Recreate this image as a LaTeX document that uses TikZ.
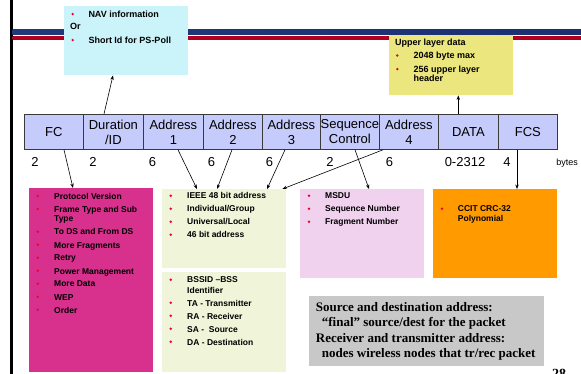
\documentclass[tikz,border=0pt]{standalone}
\usepackage{fontspec}
\setmainfont{Liberation Sans}
\newfontfamily\serifb{Liberation Serif}
\usetikzlibrary{arrows.meta,calc}
\definecolor{cellc}{HTML}{C5CBFA}
\definecolor{cellb}{HTML}{3A3A3A}
\definecolor{navc}{HTML}{CBF3FA}
\definecolor{upc}{HTML}{EBE67D}
\definecolor{magc}{HTML}{D8308D}
\definecolor{adrc}{HTML}{F0F4D8}
\definecolor{pinkc}{HTML}{F0D2EE}
\definecolor{orc}{HTML}{FF9A00}
\definecolor{grayc}{HTML}{C8C8C8}
\definecolor{bulc}{HTML}{F00030}
\definecolor{navyL}{HTML}{1F3A7A}
\definecolor{blueM}{HTML}{3366FF}
\definecolor{navyR}{HTML}{1C3070}
\definecolor{redD}{HTML}{B0001E}
\definecolor{redM}{HTML}{FF0033}
\newcommand\bitem[6][lst]{%
  \fill[bulc] (#3,#5-3.2) circle (1.35pt);
  \node[#1] (#2) at (#4,#5) {#6};}
\begin{document}
\begin{tikzpicture}[x=1pt,y=-1pt,
  cell/.style={draw=cellb, line width=0.8pt, fill=cellc, minimum height=35pt,
    inner sep=0pt, anchor=north west, align=center,
    font=\fontsize{13}{15}\selectfont},
  num/.style={anchor=base, inner sep=0pt, font=\fontsize{13}{15}\selectfont},
  box/.style={anchor=north west, inner sep=0pt, draw=none},
  lst/.style={anchor=base west, inner sep=0pt, font=\fontsize{8.5}{10}\selectfont\bfseries},
  big/.style={anchor=base west, inner sep=0pt, font=\fontsize{9}{11}\selectfont\bfseries},
  note/.style={anchor=base west, inner sep=0pt, font=\serifb\fontsize{13}{15}\selectfont\bfseries},
  arr/.style={-{Stealth[length=4.5pt,width=3.4pt]}, line width=0.6pt}]
\useasboundingbox (0,0) rectangle (581,374);
\clip (0,0) rectangle (581,374);
% slide decorations
\fill[black] (10,0) rectangle (12.5,374);
\shade[left color=navyL, middle color=blueM, right color=navyR] (12.5,29.3) rectangle (581,35);
\shade[left color=redD, middle color=redM, right color=redD] (12.5,36.8) rectangle (581,39.7);
% boxes
\node[box, fill=navc, minimum width=124pt, minimum height=69pt] (nav) at (64,6) {};
\node[box, fill=upc, minimum width=124pt, minimum height=60pt] (upper) at (389,35) {};
\node[box, fill=magc, minimum width=124pt, minimum height=184pt] (fcbox) at (29,188) {};
\node[box, fill=adrc, minimum width=124pt, minimum height=79pt] (addrbox) at (162,189) {};
\node[box, fill=adrc, minimum width=124pt, minimum height=100pt] (bssbox) at (162,272) {};
\node[box, fill=pinkc, minimum width=124pt, minimum height=89pt] (seqbox) at (300,189) {};
\node[box, fill=orc, minimum width=124pt, minimum height=89pt] (fcsbox) at (433,189) {};
\node[box, fill=grayc, minimum width=235pt, minimum height=70pt] (notebox) at (309,296) {};
% frame cells
\node[cell, minimum width=59pt] (fc) at (24,114) {FC};
\node[cell, minimum width=60pt] (dur) at (83,114) {Duration\\/ID};
\node[cell, minimum width=60pt] (a1) at (143,114) {Address\\1};
\node[cell, minimum width=59pt] (a2) at (203,114) {Address\\2};
\node[cell, minimum width=58pt] (a3) at (262,114) {Address\\3};
\node[cell, minimum width=59pt] (seq) at (320,114) {Sequence\\Control};
\node[cell, minimum width=59pt] (a4) at (379,114) {Address\\4};
\node[cell, minimum width=60pt] (data) at (438,114) {DATA};
\node[cell, minimum width=59pt] (fcs) at (498,114) {FCS};
% sizes
\node[num] (n1) at (35,166.7) {2};
\node[num] (n2) at (93,166.7) {2};
\node[num] (n3) at (152.5,166.7) {6};
\node[num] (n4) at (211.5,166.7) {6};
\node[num] (n5) at (269.5,166.7) {6};
\node[num] (n6) at (330,166.7) {2};
\node[num] (n7) at (389.5,166.7) {6};
\node[num] (n8) at (465,166.7) {0-2312};
\node[num] (n9) at (507,166.7) {4};
\node[anchor=base, inner sep=0pt, font=\fontsize{9}{11}\selectfont] (bytes) at (567,165.3) {bytes};
% NAV box
\bitem[big]{nav1}{72.7}{88.3}{17.3}{NAV information}
\node[big] (or) at (70,30) {Or};
\bitem[big]{nav2}{72.7}{88.3}{43.3}{Short Id for PS-Poll}
% upper layer box
\node[big] (up0) at (395,45.7) {Upper layer data};
\bitem[big]{up1}{397.3}{413.3}{58.7}{2048 byte max}
\bitem[big]{up2}{397.3}{413.3}{72.3}{256 upper layer}
\node[big] (up3) at (413.3,81.7) {header};
% FC box
\bitem{f1}{37.7}{54}{199.3}{Protocol Version}
\bitem{f2}{37.7}{54}{212.3}{Frame Type and Sub}
\node[lst] (f2b) at (54,221.7) {Type};
\bitem{f3}{37.7}{54}{235}{To DS and From DS}
\bitem{f4}{37.7}{54}{248}{More Fragments}
\bitem{f5}{37.7}{54}{261}{Retry}
\bitem{f6}{37.7}{54}{274}{Power Management}
\bitem{f7}{37.7}{54}{287}{More Data}
\bitem{f8}{37.7}{54}{300}{WEP}
\bitem{f9}{37.7}{54}{313}{Order}
% address boxes
\bitem{ad1}{170.7}{187}{199}{IEEE 48 bit address}
\bitem{ad2}{170.7}{187}{212}{Individual/Group}
\bitem{ad3}{170.7}{187}{225}{Universal/Local}
\bitem{ad4}{170.7}{187}{238}{46 bit address}
\bitem{bs1}{170.7}{187}{283}{BSSID –BSS}
\node[lst] (bs1b) at (187,293) {Identifier};
\bitem{bs2}{170.7}{187}{306}{TA - Transmitter}
\bitem{bs3}{170.7}{187}{319}{RA - Receiver}
\bitem{bs4}{170.7}{187}{332}{SA -~ Source}
\bitem{bs5}{170.7}{187}{345}{DA - Destination}
% sequence box
\bitem{sq1}{309}{325}{199}{MSDU}
\bitem{sq2}{309}{325}{212}{Sequence Number}
\bitem{sq3}{309}{325}{225}{Fragment Number}
% FCS box
\bitem{cr1}{442}{457.7}{212}{CCIT CRC-32}
\node[lst] (cr1b) at (457.7,221.7) {Polynomial};
% note
\node[note] (nt1) at (315.7,311.7) {Source and destination address:};
\node[note] (nt2) at (321.7,326.7) {“final” source/dest for the packet};
\node[note] (nt3) at (315.7,342.3) {Receiver and transmitter address:};
\node[note] (nt4) at (321.7,357.7) {nodes wireless nodes that tr/rec packet};
\node[anchor=base, inner sep=0pt, font=\serifb\fontsize{14}{16}\selectfont\bfseries] (pg) at (559,378.5) {28};
% connectors
\draw[arr] ($(dur.north west)+(21,0)$) -- ($(nav.south west)+(49,0)$);
\draw[arr] ($(data.north west)+(20.3,0)$) -- ($(upper.south west)+(69.3,0)$);
\draw[arr] ($(fc.south west)+(40,0)$) -- ($(fcbox.north west)+(44,0)$);
\draw[arr] ($(a1.south west)+(35,0)$) -- ($(addrbox.north west)+(35,0)$);
\draw[arr] ($(a2.south west)+(29,0)$) -- ($(addrbox.north west)+(55,0)$);
\draw[arr] ($(a3.south west)+(23,0)$) -- ($(addrbox.north west)+(105,0)$);
\draw[arr] ($(a4.south west)+(4,0)$) -- ($(addrbox.north east)+(-4,0)$);
\draw[arr] ($(seq.south west)+(35,0)$) -- ($(seqbox.north west)+(69,0)$);
\draw[arr] ($(fcs.south west)+(19,0)$) -- ($(fcsbox.north west)+(84,0)$);
\end{tikzpicture}
\end{document}
